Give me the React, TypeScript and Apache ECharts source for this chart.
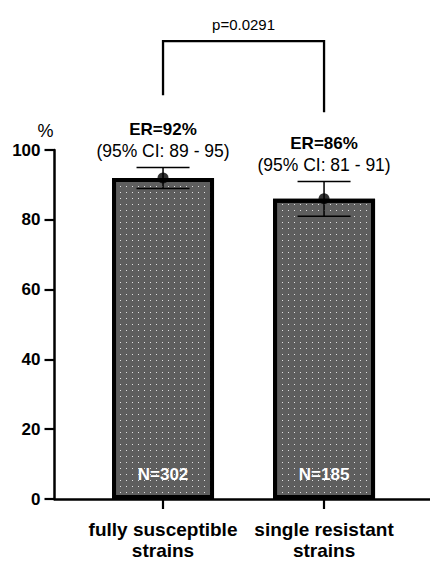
import { useEffect, useRef } from 'react';
import * as echarts from 'echarts';

// Groups, their positions on the x scale and the plotted estimates
const categories = ['fully susceptible\nstrains', 'single resistant\nstrains'];
const barPositions = [1, 2];
const erValues = [92, 86];
const ciLower = [89, 81];
const ciUpper = [95, 91];
const sampleSizes = [302, 185];

// Significance bracket between the two groups (y in % units)
const bracketLegEnds = [115.7, 110.8];
const bracketTop = 131.2;
const pValueText = 'p=0.0291';

const FONT = '"Liberation Sans", Arial, Helvetica, sans-serif';

export default function App() {
  const ref = useRef<HTMLDivElement>(null);

  useEffect(() => {
    if (!ref.current) return;
    const chart = echarts.init(ref.current, undefined, { renderer: 'svg' });

    const option = {
      animation: false,
      backgroundColor: '#ffffff',
      textStyle: { fontFamily: FONT },
      grid: { left: 54.5, right: 0, top: 150, bottom: 56, containLabel: false },
      xAxis: {
        type: 'value',
        min: 0.326,
        max: 2.658,
        splitLine: { show: false },
        axisLine: { show: true, lineStyle: { color: '#000', width: 2.5 } },
        axisTick: {
          show: true,
          customValues: barPositions,
          length: 10,
          lineStyle: { color: '#000', width: 2.2 },
        },
        axisLabel: {
          customValues: barPositions,
          formatter: (v: number) => categories[Math.round(v) - 1] ?? '',
          color: '#000',
          fontFamily: FONT,
          fontWeight: 'bold',
          fontSize: 19,
          lineHeight: 21,
          margin: 20,
        },
      },
      yAxis: {
        type: 'value',
        min: 0,
        max: 100,
        interval: 20,
        name: '%',
        nameLocation: 'end',
        nameGap: 10,
        nameTextStyle: {
          color: '#000',
          fontFamily: FONT,
          fontSize: 18,
          align: 'right',
          padding: [0, 1, 0, 0],
        },
        splitLine: { show: false },
        axisLine: { show: true, lineStyle: { color: '#000', width: 2.5 } },
        axisTick: { show: true, length: 10, lineStyle: { color: '#000', width: 2.2 } },
        axisLabel: {
          color: '#000',
          fontFamily: FONT,
          fontWeight: 'bold',
          fontSize: 17,
          margin: 14,
        },
      },
      series: [
        {
          type: 'bar',
          data: barPositions.map((x, i) => [x, erValues[i]]),
          barWidth: 102,
          z: 2,
          itemStyle: {
            color: '#5e5e5e',
            borderColor: '#000',
            borderWidth: 4,
            decal: {
              symbol: 'rect',
              symbolSize: 1,
              color: 'rgba(255,255,255,0.8)',
              dashArrayX: [1, 5],
              dashArrayY: [1, 4.3],
              rotation: 0,
            },
          },
          label: {
            show: true,
            position: 'insideBottom',
            distance: 16.5,
            formatter: (p: any) => `N=${sampleSizes[p.dataIndex]}`,
            color: '#fff',
            fontFamily: FONT,
            fontWeight: 'bold',
            fontSize: 17,
          },
        },
        {
          // Confidence-interval whiskers with their ER / CI annotations
          type: 'custom',
          clip: false,
          z: 5,
          data: barPositions.map((x, i) => [x, ciLower[i], ciUpper[i], erValues[i]]),
          renderItem: (_params: any, api: any) => {
            const x = api.value(0);
            const lo = api.value(1);
            const hi = api.value(2);
            const er = api.value(3);
            const pLo = api.coord([x, lo]);
            const pHi = api.coord([x, hi]);
            const half = 26.5;
            const lineStyle = { stroke: '#000', lineWidth: 1.5 };
            return {
              type: 'group',
              children: [
                { type: 'line', shape: { x1: pLo[0], y1: pLo[1], x2: pHi[0], y2: pHi[1] }, style: lineStyle },
                { type: 'line', shape: { x1: pHi[0] - half, y1: pHi[1], x2: pHi[0] + half, y2: pHi[1] }, style: lineStyle },
                { type: 'line', shape: { x1: pLo[0] - half, y1: pLo[1], x2: pLo[0] + half, y2: pLo[1] }, style: lineStyle },
                {
                  type: 'text',
                  x: pHi[0],
                  y: pHi[1] - 38,
                  style: {
                    text: `ER=${er}%`,
                    fill: '#000',
                    font: `bold 17px ${FONT}`,
                    align: 'center',
                    verticalAlign: 'middle',
                  },
                },
                {
                  type: 'text',
                  x: pHi[0],
                  y: pHi[1] - 16.5,
                  style: {
                    text: `(95% CI: ${lo} - ${hi})`,
                    fill: '#000',
                    font: `17.5px ${FONT}`,
                    align: 'center',
                    verticalAlign: 'middle',
                  },
                },
              ],
            };
          },
        },
        {
          // Point estimates
          type: 'scatter',
          data: barPositions.map((x, i) => [x, erValues[i]]),
          symbol: 'circle',
          symbolSize: 11,
          z: 6,
          itemStyle: { color: '#000' },
        },
        {
          // Significance bracket
          type: 'custom',
          clip: false,
          z: 5,
          data: [[barPositions[0], barPositions[1], bracketLegEnds[0], bracketLegEnds[1], bracketTop]],
          renderItem: (_params: any, api: any) => {
            const a = api.coord([api.value(0), api.value(2)]);
            const b = api.coord([api.value(0), api.value(4)]);
            const c = api.coord([api.value(1), api.value(4)]);
            const d = api.coord([api.value(1), api.value(3)]);
            return {
              type: 'group',
              children: [
                {
                  type: 'polyline',
                  shape: { points: [a, b, c, d] },
                  style: { stroke: '#000', lineWidth: 2.3, fill: 'none' },
                },
                {
                  type: 'text',
                  x: (b[0] + c[0]) / 2,
                  y: b[1] - 17,
                  style: {
                    text: pValueText,
                    fill: '#000',
                    font: `15px ${FONT}`,
                    align: 'center',
                    verticalAlign: 'middle',
                  },
                },
              ],
            };
          },
        },
      ],
    };

    chart.setOption(option as any);
    return () => chart.dispose();
  }, []);

  return (
    <div
      ref={ref}
      style={{ position: 'fixed', left: 0, top: 0, width: 430, height: 561, background: '#fff' }}
    />
  );
}
